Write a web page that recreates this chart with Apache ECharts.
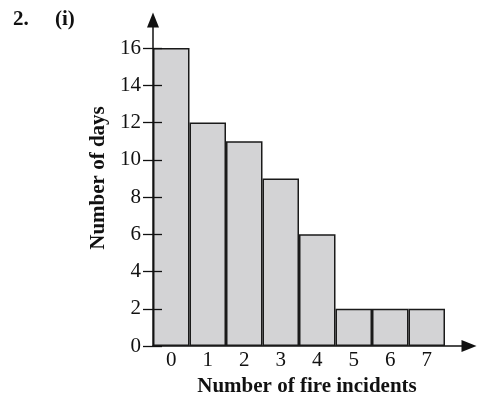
<!DOCTYPE html>
<html>
<head>
<meta charset="utf-8">
<script src="https://cdn.jsdelivr.net/npm/echarts@6/dist/echarts.min.js"></script>
<style>
  html, body { margin: 0; padding: 0; background: #fff; }
  #chart { width: 477px; height: 398px; }
</style>
</head>
<body>
<div id="chart"></div>
<script>
// fire incidents per day -> number of days
var incidents = ['0', '1', '2', '3', '4', '5', '6', '7'];
var days = [16, 12, 11, 9, 6, 2, 2, 2];

var font = '"Liberation Serif", "Times New Roman", serif';
var ink = '#111';

var chart = echarts.init(document.getElementById('chart'));
var option = {
    backgroundColor: '#fff',
    animation: false,
    title: [
        { text: '2.', left: 8, top: 4, textStyle: { fontFamily: font, fontSize: 21, fontWeight: 'bold', color: ink } },
        { text: '(i)', left: 50, top: 4, textStyle: { fontFamily: font, fontSize: 21, fontWeight: 'bold', color: ink } }
    ],
    grid: [
        // data grid
        { left: 153, right: 32, top: 48, bottom: 52, outerBoundsMode: 'none', containLabel: false },
        // frame grid, only for the arrowed axes
        { left: 153, right: 8, top: 20, bottom: 52, outerBoundsMode: 'none', containLabel: false }
    ],
    xAxis: [
        {
            type: 'category',
            gridIndex: 0,
            data: incidents,
            boundaryGap: true,
            axisLine: { show: false },
            axisTick: { show: false },
            axisLabel: { margin: 4, fontFamily: font, fontSize: 21, color: ink },
            name: 'Number of fire incidents',
            nameLocation: 'middle',
            nameGap: 24,
            nameTextStyle: { fontFamily: font, fontSize: 21, fontWeight: 'bold', color: ink, padding: [0, 0, 0, 16] }
        },
        {
            type: 'value',
            gridIndex: 1,
            min: 0,
            max: 1,
            axisLine: { show: true, symbol: ['none', 'triangle'], symbolSize: [12, 15], lineStyle: { color: ink, width: 1.5 } },
            axisTick: { show: false },
            axisLabel: { show: false },
            splitLine: { show: false }
        }
    ],
    yAxis: [
        {
            type: 'value',
            gridIndex: 0,
            position: 'left',
            min: 0,
            max: 16,
            interval: 2,
            axisLine: { show: false },
            axisTick: { show: true, length: 10, lineStyle: { color: ink, width: 1.3 } },
            axisLabel: { margin: 12, fontFamily: font, fontSize: 21, color: ink },
            splitLine: { show: false },
            name: 'Number of days',
            nameLocation: 'middle',
            nameGap: 43,
            nameTextStyle: { fontFamily: font, fontSize: 21, fontWeight: 'bold', color: ink, padding: [0, 0, 0, 38] }
        },
        {
            // inner half of the crossing tick marks
            type: 'value',
            gridIndex: 0,
            position: 'left',
            z: 5,
            min: 0,
            max: 16,
            interval: 2,
            axisLine: { show: false },
            axisTick: { show: true, inside: true, length: 9, lineStyle: { color: ink, width: 1.3 } },
            axisLabel: { show: false },
            splitLine: { show: false }
        },
        {
            type: 'value',
            gridIndex: 1,
            position: 'left',
            z: 5,
            min: 0,
            max: 1,
            axisLine: { show: true, symbol: ['none', 'triangle'], symbolSize: [12, 15], lineStyle: { color: ink, width: 1.5 } },
            axisTick: { show: false },
            axisLabel: { show: false },
            splitLine: { show: false }
        }
    ],
    series: [
        {
            type: 'bar',
            xAxisIndex: 0,
            yAxisIndex: 0,
            data: days,
            barWidth: '100%',
            barCategoryGap: 0,
            itemStyle: { color: '#d3d3d5', borderColor: '#1a1a1a', borderWidth: 1.5 },
            z: 1
        }
    ]
};
chart.setOption(option);
</script>
</body>
</html>
